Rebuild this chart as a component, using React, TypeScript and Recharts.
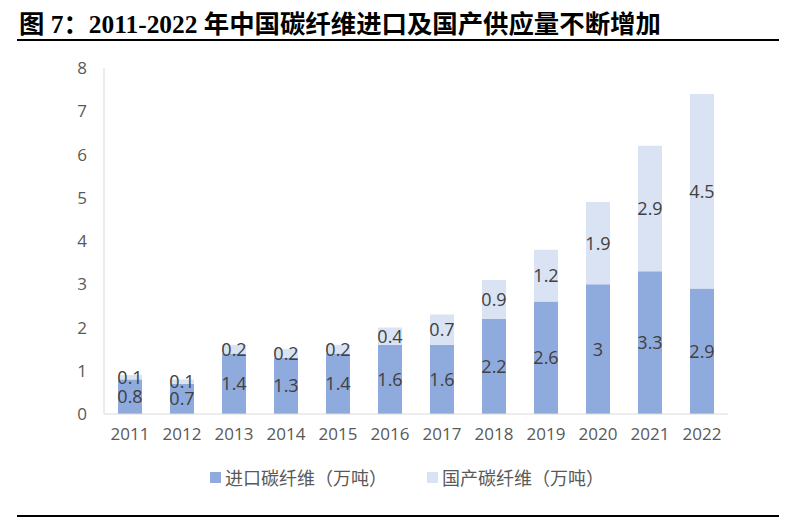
import React from "react";
import { BarChart, Bar, XAxis, YAxis, LabelList } from "recharts";

const years = ["2011", "2012", "2013", "2014", "2015", "2016", "2017", "2018", "2019", "2020", "2021", "2022"];
const imported = [0.8, 0.7, 1.4, 1.3, 1.4, 1.6, 1.6, 2.2, 2.6, 3, 3.3, 2.9];
const domestic = [0.1, 0.1, 0.2, 0.2, 0.2, 0.4, 0.7, 0.9, 1.2, 1.9, 2.9, 4.5];
const yTicks = [0, 1, 2, 3, 4, 5, 6, 7, 8];
const seriesNames = ["进口碳纤维（万吨）", "国产碳纤维（万吨）"];
const colors = ["#8FAADC", "#DAE3F3"];

const data = years.map((y, i) => ({ year: y, imported: imported[i], domestic: domestic[i] }));

const FONT = "'Open Sans', 'Noto Sans CJK SC', sans-serif";

export default function App() {
  return (
    <div style={{ position: "absolute", left: 0, top: 0, width: 800, height: 520, background: "#fff", overflow: "hidden" }}>
      <div
        style={{
          position: "absolute",
          left: 19,
          top: 4,
          fontFamily: "'Liberation Serif', 'Noto Sans CJK SC', serif",
          fontWeight: "bold",
          fontSize: 25.4,
          color: "#000",
          whiteSpace: "nowrap",
          letterSpacing: 0,
        }}
      >
        图 7：2011-2022 年中国碳纤维进口及国产供应量不断增加
      </div>
      <div style={{ position: "absolute", left: 17, top: 39, width: 762, height: 2, background: "#000" }} />
      <div style={{ position: "absolute", left: 17, top: 515, width: 762, height: 2, background: "#000" }} />
      <div style={{ position: "absolute", left: 0, top: 0 }}>
        <BarChart
          width={800}
          height={520}
          data={data}
          margin={{ top: 68, right: 72, bottom: 66, left: 0 }}
          barSize={24}
        >
          <XAxis
            dataKey="year"
            tickLine={false}
            tickSize={0}
            tickMargin={14}
            axisLine={{ stroke: "#D9D9D9" }}
            tick={{ fill: "#595959", fontSize: 17, fontFamily: FONT }}
            height={40}
          />
          <YAxis
            width={104}
            domain={[0, 8]}
            ticks={yTicks}
            interval={0}
            tickLine={false}
            tickSize={0}
            tickMargin={17}
            axisLine={{ stroke: "#D9D9D9" }}
            tick={{ fill: "#595959", fontSize: 17, fontFamily: FONT }}
          />
          <Bar dataKey="imported" stackId="a" fill={colors[0]} isAnimationActive={false}>
            <LabelList dataKey="imported" position="center" fill="#404040" fontSize={18} fontFamily={FONT} />
          </Bar>
          <Bar dataKey="domestic" stackId="a" fill={colors[1]} isAnimationActive={false}>
            <LabelList dataKey="domestic" position="center" fill="#404040" fontSize={18} fontFamily={FONT} />
          </Bar>
        </BarChart>
      </div>
      <div
        style={{
          position: "absolute",
          top: 464,
          left: 210,
          display: "flex",
          alignItems: "center",
          fontFamily: FONT,
          fontSize: 18,
          color: "#595959",
          whiteSpace: "nowrap",
        }}
      >
        <span style={{ width: 11, height: 11, background: colors[0], display: "inline-block", marginRight: 4 }} />
        <span>{seriesNames[0]}</span>
        <span style={{ width: 11, height: 11, background: colors[1], display: "inline-block", marginLeft: 40, marginRight: 4 }} />
        <span>{seriesNames[1]}</span>
      </div>
    </div>
  );
}
